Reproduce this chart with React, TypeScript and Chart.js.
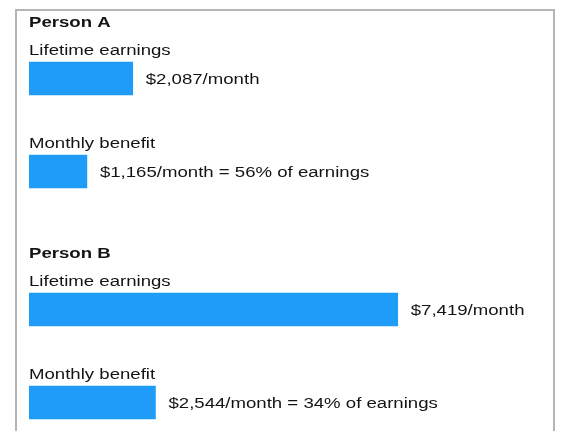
import React, { useEffect, useRef } from "react";
import { Chart, registerables } from "chart.js";

Chart.register(...registerables);

const personNames = ["Person A", "Person B"];
const categories = ["Lifetime earnings", "Monthly benefit"];
const personAValues = [2087, 1165];
const personBValues = [7419, 2544];
const axisMax = 10000;

const BAR_COLOR = "#1f9cf7";
const TEXT_COLOR = "#141414";
const FONT_FAMILY = '"Liberation Sans", Arial, Helvetica, sans-serif';
const FONT_SIZE = 15.5;
const STRETCH = 1.2;

function money(v: number) {
  return "$" + v.toLocaleString("en-US") + "/month";
}

function valueLabel(values: number[], i: number) {
  if (i === 0) return money(values[0]);
  const pct = Math.round((values[i] / values[0]) * 100);
  return money(values[i]) + " = " + pct + "% of earnings";
}

function drawText(ctx: CanvasRenderingContext2D, text: string, x: number, y: number, bold: boolean) {
  ctx.save();
  ctx.font = (bold ? "bold " : "") + FONT_SIZE + "px " + FONT_FAMILY;
  ctx.fillStyle = TEXT_COLOR;
  ctx.textBaseline = "alphabetic";
  ctx.textAlign = "left";
  ctx.translate(x, y);
  ctx.scale(STRETCH, 1);
  ctx.fillText(text, 0, 0);
  ctx.restore();
}

function PersonChart({ title, values, top }: { title: string; values: number[]; top: number }) {
  const ref = useRef<HTMLCanvasElement | null>(null);
  useEffect(() => {
    if (!ref.current) return;
    const labelPlugin = {
      id: "labels",
      afterDatasetsDraw(chart: any) {
        const ctx = chart.ctx as CanvasRenderingContext2D;
        const meta = chart.getDatasetMeta(0);
        meta.data.forEach((el: any, i: number) => {
          const p = el.getProps(["x", "y", "base", "height"], true);
          if (i === 0) drawText(ctx, title, p.base, p.y - 51.5, true);
          drawText(ctx, categories[i], p.base, p.y - p.height / 2 - 7.5, false);
          drawText(ctx, valueLabel(values, i), p.x + 13, p.y + 5.5, false);
        });
      },
    };
    const chart = new Chart(ref.current, {
      type: "bar",
      data: {
        labels: categories,
        datasets: [
          {
            data: values,
            backgroundColor: BAR_COLOR,
            borderWidth: 0,
            barThickness: 33,
          },
        ],
      },
      options: {
        indexAxis: "y",
        responsive: false,
        animation: false,
        layout: { padding: { left: 12, right: 26, top: 21, bottom: 13 } },
        scales: {
          x: { display: false, min: 0, max: axisMax },
          y: { display: false },
        },
        plugins: { legend: { display: false }, tooltip: { enabled: false }, title: { display: false } },
      },
      plugins: [labelPlugin],
    } as any);
    return () => chart.destroy();
  }, [title, values]);
  return (
    <canvas
      ref={ref}
      width={535}
      height={220}
      style={{ position: "absolute", left: 17, top, width: 535, height: 220, display: "block" }}
    />
  );
}

export default function App() {
  return (
    <div
      style={{
        position: "absolute",
        left: 0,
        top: 0,
        width: 563,
        height: 431,
        overflow: "hidden",
        background: "#ffffff",
      }}
    >
      <div
        style={{
          position: "absolute",
          left: 15,
          top: 9,
          width: 540,
          height: 500,
          boxSizing: "border-box",
          border: "2px solid #b4b4b4",
        }}
      />
      <PersonChart title={personNames[0]} values={personAValues} top={11} />
      <PersonChart title={personNames[1]} values={personBValues} top={242} />
    </div>
  );
}
